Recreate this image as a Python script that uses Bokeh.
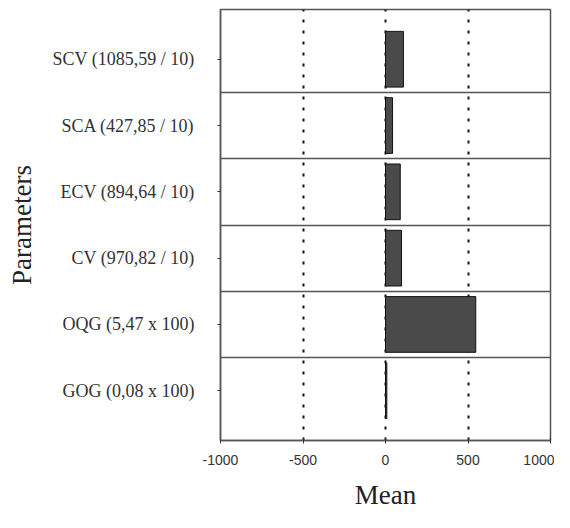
from bokeh.plotting import figure
from bokeh.models import FixedTicker, Range1d
from bokeh.embed import file_html
from bokeh.resources import INLINE

categories = ["SCV (1085,59 / 10)", "SCA (427,85 / 10)", "ECV (894,64 / 10)",
              "CV (970,82 / 10)", "OQG (5,47 x 100)", "GOG (0,08 x 100)"]
means = [108.559, 42.785, 89.464, 97.082, 547.0, 8.0]
x_ticks = [-1000, -500, 0, 500, 1000]
x_tick_labels = ["-1000", "-500", "0", "500", "1000"]
grid_ticks = [-500, 0, 500]

n = len(categories)
ypos = [n - 1 - i for i in range(n)]

p = figure(width=554, height=512, output_backend="svg", toolbar_location=None,
           x_range=Range1d(-1000, 1000), y_range=Range1d(-0.75, n - 0.25),
           min_border_left=220, min_border_right=4, min_border_top=9,
           min_border_bottom=65)

p.hbar(y=ypos, right=means, left=0, height=0.84,
       fill_color="#4a4a4a", line_color="#111111", line_width=1)

p.outline_line_color = "#555555"
p.outline_line_width = 1.5

# grids
p.xgrid.ticker = FixedTicker(ticks=grid_ticks)
p.xgrid.grid_line_color = "#111111"
p.xgrid.grid_line_width = 2
p.xgrid.grid_line_dash = "3 8"
p.ygrid.ticker = FixedTicker(ticks=[k + 0.5 for k in range(n - 1)])
p.ygrid.grid_line_color = "#555555"
p.ygrid.grid_line_width = 1.5

# x axis
p.xaxis.ticker = FixedTicker(ticks=x_ticks)
p.xaxis.major_label_overrides = {t: s for t, s in zip(x_ticks, x_tick_labels)}
p.xaxis.major_tick_in = 3
p.xaxis.major_tick_out = 3
p.xaxis.minor_tick_line_color = None
p.xaxis.axis_line_color = "#555555"
p.xaxis.axis_line_width = 1.5
p.xaxis.major_tick_line_color = "#333333"
p.xaxis.major_label_text_font = "Liberation Sans"
p.xaxis.major_label_text_font_size = "14px"
p.xaxis.major_label_text_color = "#333333"
p.xaxis.major_label_standoff = 11
p.xaxis.axis_label = "Mean"
p.xaxis.axis_label_text_font = "Liberation Serif"
p.xaxis.axis_label_text_font_style = "normal"
p.xaxis.axis_label_text_font_size = "27px"
p.xaxis.axis_label_text_color = "#222222"
p.xaxis.axis_label_standoff = 12

# y axis
p.yaxis.ticker = FixedTicker(ticks=ypos)
p.yaxis.major_label_overrides = {y: c for y, c in zip(ypos, categories)}
p.yaxis.major_tick_in = 0
p.yaxis.major_tick_out = 3
p.yaxis.minor_tick_line_color = None
p.yaxis.axis_line_color = "#555555"
p.yaxis.axis_line_width = 1.5
p.yaxis.major_tick_line_color = "#333333"
p.yaxis.major_label_text_font = "Liberation Serif"
p.yaxis.major_label_text_font_size = "18px"
p.yaxis.major_label_text_color = "#333333"
p.yaxis.major_label_standoff = 23
p.yaxis.axis_label = "Parameters"
p.yaxis.axis_label_text_font = "Liberation Serif"
p.yaxis.axis_label_text_font_style = "normal"
p.yaxis.axis_label_text_font_size = "27px"
p.yaxis.axis_label_text_color = "#222222"
p.yaxis.axis_label_standoff = 12

open("out.html", "w").write(file_html(p, INLINE))
